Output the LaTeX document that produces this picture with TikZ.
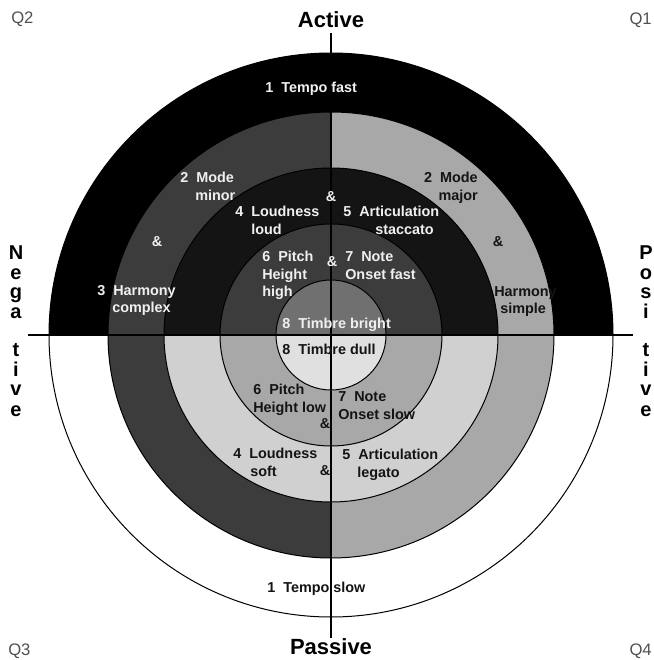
\documentclass[tikz,border=0pt]{standalone}
\usepackage{fontspec}
\setmainfont{Liberation Sans}
\usepackage{tikz}

\definecolor{ringdark}{RGB}{60,60,60}
\definecolor{ringblack}{RGB}{20,20,20}
\definecolor{ringmid}{RGB}{112,112,112}
\definecolor{ringlight}{RGB}{168,168,168}
\definecolor{ringpale}{RGB}{208,208,208}
\definecolor{ringpalest}{RGB}{224,224,224}
\definecolor{txtwhite}{RGB}{240,240,240}
\definecolor{txtdark}{RGB}{20,20,20}
\definecolor{txtgray}{RGB}{80,80,80}

\begin{document}
\begin{tikzpicture}[x=0.75pt,y=0.75pt,yscale=-1,xscale=1,
  ringline/.style={draw=black,line width=0.75pt},
  axisline/.style={draw=black,line width=0.9pt},
  lbl/.style={anchor=north west,inner sep=0pt,align=left,font=\fontsize{10.8}{13.2}\selectfont\bfseries},
  lblw/.style={lbl,text=txtwhite},
  lbld/.style={lbl,text=txtdark},
  amp/.style={inner sep=0pt,font=\fontsize{10.8}{13.2}\selectfont\bfseries},
  pole/.style={inner sep=0pt,font=\fontsize{16.5}{19}\selectfont\bfseries},
  poleletter/.style={inner sep=0pt,anchor=base,font=\fontsize{15}{17}\selectfont\bfseries},
  qlabel/.style={inner sep=0pt,font=\fontsize{12.5}{15}\selectfont,text=txtgray}
]
		\useasboundingbox (0,0) rectangle (653,660);
		\coordinate (O) at (331,335);

		%Shape: upper half rings
		\fill[black] (O) -- ++(180:282) arc (180:360:282) -- cycle;
		\fill[ringdark] (O) -- ++(180:223) arc (180:270:223) -- cycle;
		\fill[ringlight] (O) -- ++(270:223) arc (270:360:223) -- cycle;
		\fill[ringblack] (O) -- ++(180:167) arc (180:360:167) -- cycle;
		\fill[ringdark] (O) -- ++(180:111) arc (180:360:111) -- cycle;
		\fill[ringmid] (O) -- ++(180:55) arc (180:360:55) -- cycle;
		%Shape: lower half rings
		\fill[ringdark] (O) -- ++(90:223) arc (90:180:223) -- cycle;
		\fill[ringlight] (O) -- ++(0:223) arc (0:90:223) -- cycle;
		\fill[ringpale] (O) -- ++(0:167) arc (0:180:167) -- cycle;
		\fill[ringlight] (O) -- ++(0:111) arc (0:180:111) -- cycle;
		\fill[ringpalest] (O) -- ++(0:55) arc (0:180:55) -- cycle;
		%Shape: circle outlines
		\foreach \r in {282,223,167,111,55}
			\draw[ringline] (O) circle (\r);

		%Straight Lines: axes
		\coordinate (vtop) at (331,33);
		\coordinate (vbot) at (331,638);
		\coordinate (hleft) at (28,335);
		\coordinate (hright) at (633,335);
		\draw[axisline] (vtop) -- (vbot);
		\draw[axisline] (hleft) -- (hright);

		% Text Node: poles
		\node[pole] (active) at (331,20) {Active};
		\node[pole] (passive) at (331,647) {Passive};
		\foreach \ch/\yb [count=\i] in {N/259,e/279,g/298,a/318,t/356,i/376,v/395,e/416}
			\node[poleletter] (neg\i) at (16,\yb) {\ch};
		\foreach \ch/\yb [count=\i] in {P/259,o/279,s/298,i/318,t/356,i/376,v/395,e/416}
			\node[poleletter] (pos\i) at (646,\yb) {\ch};

		% Text Node: quadrants
		\node[qlabel,anchor=west] (q2) at (11,19) {Q2};
		\node[qlabel,anchor=east] (q1) at (652,20) {Q1};
		\node[qlabel,anchor=west] (q3) at (8,651) {Q3};
		\node[qlabel,anchor=east] (q4) at (652,651) {Q4};

		% Text Node: upper half
		\node[lblw] (tfast) at (265,81.7) {1~~Tempo fast};
		\node[lblw] (mminor) at (180,171.7) {2~~Mode\\\hspace*{11.25pt}minor};
		\node[amp,text=txtwhite] (ampl) at (157,242) {\&};
		\node[lblw] (hcomplex) at (97,284.7) {3~~Harmony\\\hspace*{11.25pt}complex};
		\node[lblw] (lloud) at (235,205.7) {4~~Loudness\\\hspace*{12pt}loud};
		\node[lblw] (phigh) at (262,250.7) {6~~Pitch\\Height\\high};
		\node[amp,text=txtwhite] (ampt) at (331,197) {\&};
		\node[amp,text=txtwhite] (ampm) at (332,262) {\&};
		\node[lblw] (astacc) at (343,205.7) {5~~Articulation\\\hspace*{24pt}staccato};
		\node[lblw] (nfast) at (345,251.7) {7~~Note\\Onset fast};
		\node[lbld,anchor=north east,align=right] (mmajor) at (478,171.7) {2~~Mode\\major};
		\node[amp,text=txtdark] (ampr) at (498,242) {\&};
		\node[lbld] (hsimple) at (478,285.7) {3~~Harmony\\\hspace*{16.5pt}simple};
		\node[lblw] (tbright) at (282,317.7) {8~~Timbre bright};

		% Text Node: lower half
		\node[lbld] (tdull) at (282,343.7) {8~~Timbre dull};
		\node[lbld] (plow) at (253,383.7) {6~~Pitch\\Height low};
		\node[amp,text=txtdark] (ampp) at (325,424) {\&};
		\node[lbld] (nslow) at (338,391.7) {7~~Note\\Onset slow};
		\node[lbld] (lsoft) at (233,447.7) {4~~Loudness\\\hspace*{12.75pt}soft};
		\node[amp,text=txtdark] (amps) at (325,471) {\&};
		\node[lbld] (alegato) at (342,448.7) {5~~Articulation\\\hspace*{11.25pt}legato};
		\node[lbld] (tslow) at (267,581.7) {1~~Tempo slow};

\end{tikzpicture}
\end{document}
